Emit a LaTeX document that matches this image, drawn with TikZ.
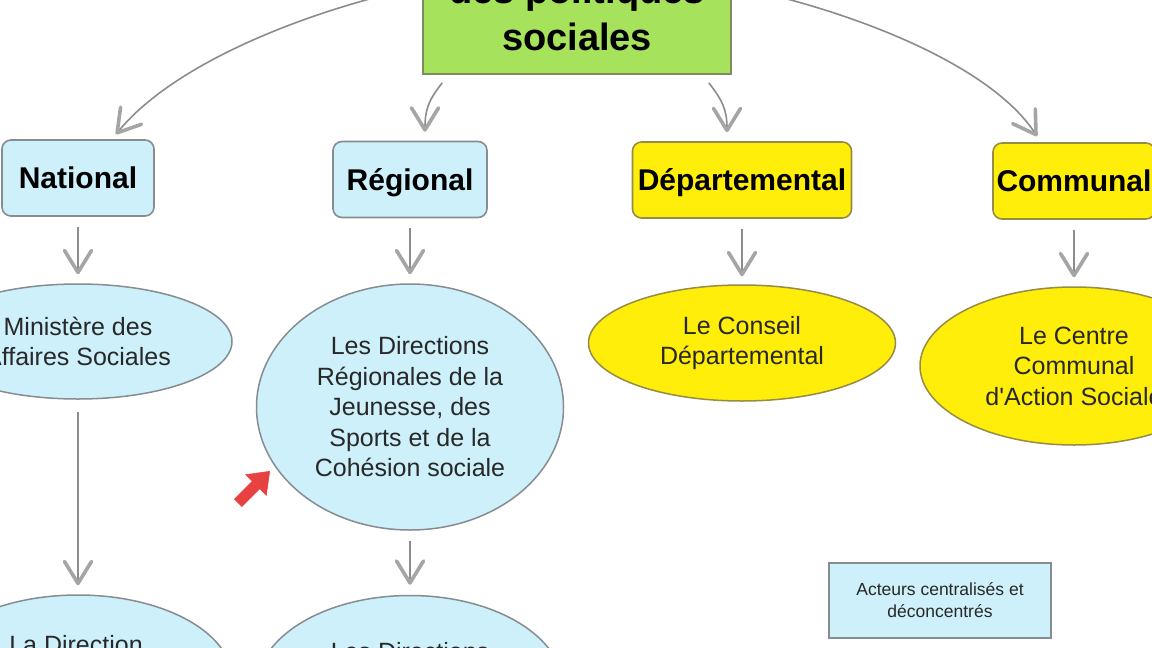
\documentclass[tikz,border=0pt]{standalone}
\usepackage{fontspec}
\setmainfont{Liberation Sans}
\usetikzlibrary{shapes.geometric,arrows.meta}
\definecolor{lblue}{RGB}{205,240,250}
\definecolor{yel}{RGB}{255,237,10}
\definecolor{grn}{RGB}{166,226,92}
\definecolor{grnborder}{RGB}{125,140,95}
\definecolor{boxgrey}{RGB}{135,140,145}
\definecolor{yelborder}{RGB}{150,140,70}
\definecolor{arrgrey}{RGB}{140,140,140}
\definecolor{headgrey}{RGB}{165,165,165}
\definecolor{txtgrey}{RGB}{40,40,40}
\definecolor{redc}{RGB}{232,65,65}
\begin{document}
\begin{tikzpicture}[x=1pt,y=-1pt,
  levelbox/.style={draw=boxgrey, line width=1.6pt, fill=lblue, rounded corners=9pt,
    minimum height=76pt, inner sep=0pt, text=black, text height=21.5pt, text depth=0pt,
    font=\fontsize{30}{36}\selectfont\bfseries},
  yelbox/.style={levelbox, fill=yel, draw=yelborder},
  ell/.style={ellipse, draw=boxgrey, line width=1.5pt, fill=lblue, inner sep=0pt,
    align=center, text=txtgrey, font=\fontsize{25}{30.5}\selectfont},
  yell/.style={ell, fill=yel, draw=yelborder},
  conn/.style={draw=arrgrey, line width=1.6pt, line join=round,
    -{Straight Barb[length=22pt,width=27pt,line width=3.6pt,round,color=headgrey]}},
  titletext/.style={anchor=base, inner sep=0pt, text=black,
    font=\fontsize{38}{44}\selectfont\bfseries},
  legendbox/.style={draw=boxgrey, line width=2pt, fill=lblue, minimum width=222pt,
    minimum height=75pt, align=center, text=txtgrey,
    font=\fontsize{17.5}{22}\selectfont},
  redarrow/.style={draw=redc, line width=11pt,
    -{Triangle[length=20pt,width=30pt,line width=0.5pt]}}
]
\useasboundingbox (0,0) rectangle (1152,648);
\clip (0,0) rectangle (1152,648);
\fill[white] (0,0) rectangle (1152,648);

% title box
\node[draw=grnborder, line width=1.6pt, fill=grn, minimum width=308pt, minimum height=162pt, inner sep=0pt] (G) at (577,-7) {};
\node[titletext] (Gt1) at (577,3) {des politiques};
\node[titletext] (Gt2) at (577,50) {sociales};

% level boxes
\node[levelbox, minimum width=152pt] (N) at (78,178) {National};
\node[levelbox, minimum width=154pt] (R) at (410,179.5) {Régional};
\node[yelbox, minimum width=219pt] (D) at (742,180) {Départemental};
\node[yelbox, minimum width=162pt] (C) at (1074,181) {Communal};

% ellipses
\node[ell, minimum width=308pt, minimum height=115pt] (E1) at (78,341.5) {Ministère des\\Affaires Sociales};
\node[ell, minimum width=307pt, minimum height=246pt] (E2) at (410,407) {Les Directions\\Régionales de la\\Jeunesse, des\\Sports et de la\\Cohésion sociale};
\node[yell, minimum width=307pt, minimum height=116pt] (E3) at (742,343) {Le Conseil\\Départemental};
\node[yell, minimum width=308pt, minimum height=158pt] (E4) at (1074,366) {Le Centre\\Communal\\d\textquotesingle Action Sociale};
\node[ell, minimum width=308pt, minimum height=168pt] (E5) at (78,679) {};
\node[ell, minimum width=307pt, minimum height=185pt] (E6) at (410,688) {};
\node[text=txtgrey, font=\fontsize{25}{30.5}\selectfont, inner sep=0pt] (E5t) at (76,645) {La Direction};
\node[text=txtgrey, font=\fontsize{25}{30.5}\selectfont, inner sep=0pt] (E6t) at (410,652) {Les Directions};

% legend
\node[legendbox] (L) at (940,600.5) {Acteurs centralisés et\\déconcentrés};

% curved connectors from title
\draw[conn] ([yshift=7pt]G.west) .. controls +(-133,29) and +(53,-65) .. ([xshift=38pt,yshift=5pt]N.north);
\draw[conn] ([xshift=20pt,yshift=-8pt]G.south west) .. controls +(-14,18) and +(0,-22) .. ([xshift=15pt,yshift=9pt]R.north);
\draw[conn] ([xshift=-23pt,yshift=-8pt]G.south east) .. controls +(14,18) and +(0,-22) .. ([xshift=-15pt,yshift=9pt]D.north);
\draw[conn] ([yshift=7pt]G.east) .. controls +(119,24) and +(-47,-72) .. ([xshift=-37pt,yshift=6pt]C.north);

% straight connectors
\draw[conn, shorten <=10pt, shorten >=9pt] (N) -- (E1);
\draw[conn, shorten <=10pt, shorten >=9pt] (R) -- (E2);
\draw[conn, shorten <=10pt, shorten >=8pt] (D) -- (E3);
\draw[conn, shorten <=10pt, shorten >=9pt] (C) -- (E4);
\draw[conn, shorten <=12pt, shorten >=9pt] (E1) -- (E5);
\draw[conn, shorten <=10pt, shorten >=10pt] (E2) -- (E6);

% red pointer
\coordinate (r1) at (238,503);
\coordinate (r2) at (270,471);
\draw[redarrow] (r1) -- (r2);
\end{tikzpicture}
\end{document}
